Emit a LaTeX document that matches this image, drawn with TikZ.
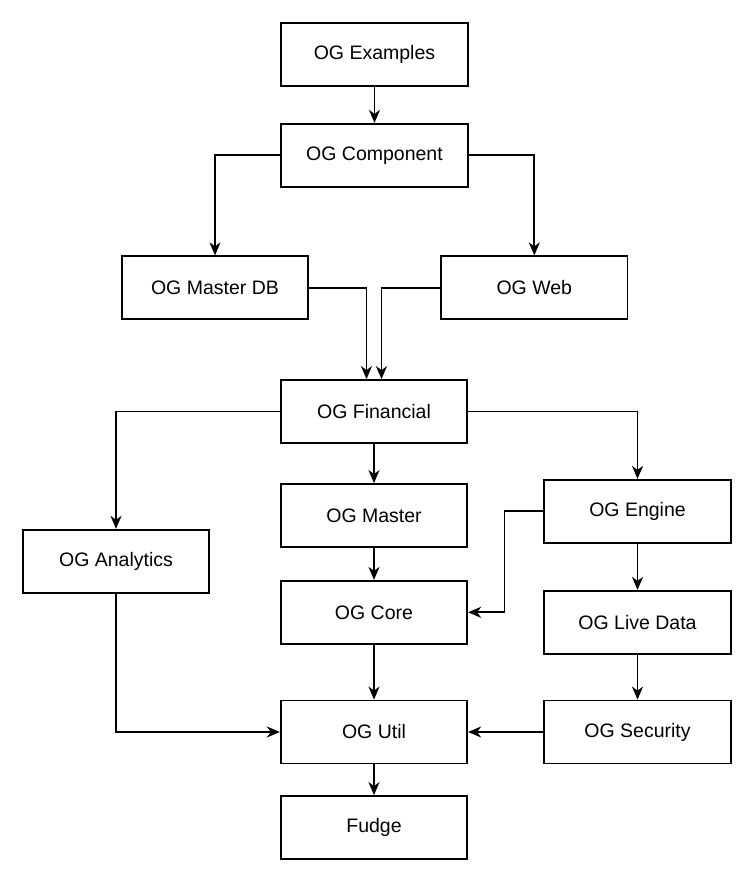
\documentclass[tikz,border=0pt]{standalone}
\usepackage{fontspec}
\setmainfont{Liberation Sans}
\usetikzlibrary{arrows.meta}
\begin{document}
\begin{tikzpicture}[x=1pt,y=-1pt,
  box/.style={draw, line width=1.8pt, minimum width=186.5pt, minimum height=63pt, inner sep=0pt, font=\fontsize{19.5}{22}\selectfont},
  conn/.style={line width=1.7pt, -{Stealth[length=13pt,width=11pt,inset=4pt]}}]
\useasboundingbox (0,0) rectangle (750,882);
\node[box] (ex) at (374.5,54.2) {OG Examples};
\node[box] (comp) at (374.5,155.3) {OG Component};
\node[box] (mdb) at (215,287.8) {OG Master DB};
\node[box] (web) at (534.3,287.8) {OG Web};
\node[box] (fin) at (374,411.5) {OG Financial};
\node[box] (mas) at (374,515.5) {OG Master};
\node[box] (eng) at (637.5,511.3) {OG Engine};
\node[box] (ana) at (116,561.2) {OG Analytics};
\node[box] (core) at (374,612.3) {OG Core};
\node[box] (live) at (637.5,622.3) {OG Live Data};
\node[box] (util) at (374,732) {OG Util};
\node[box] (sec) at (637.5,732) {OG Security};
\node[box] (fudge) at (374,827.5) {Fudge};
\draw[conn] (ex) -- (comp);
\draw[conn] (comp.west) -| (mdb.north);
\draw[conn] (comp.east) -| (web.north);
\draw[conn] (mdb.east) -| ([xshift=-7.5pt]fin.north);
\draw[conn] (web.west) -| ([xshift=7.5pt]fin.north);
\draw[conn] (fin.west) -| (ana.north);
\draw[conn] (fin.east) -| (eng.north);
\draw[conn] (fin) -- (mas);
\draw[conn] (mas) -- (core);
\draw[conn] (core) -- (util);
\draw[conn] (util) -- (fudge);
\draw[conn] (eng.west) -- ++(-39,0) |- (core.east);
\draw[conn] (eng) -- (live);
\draw[conn] (live) -- (sec);
\draw[conn] (ana.south) |- (util.west);
\draw[conn] (sec) -- (util);
\end{tikzpicture}
\end{document}
